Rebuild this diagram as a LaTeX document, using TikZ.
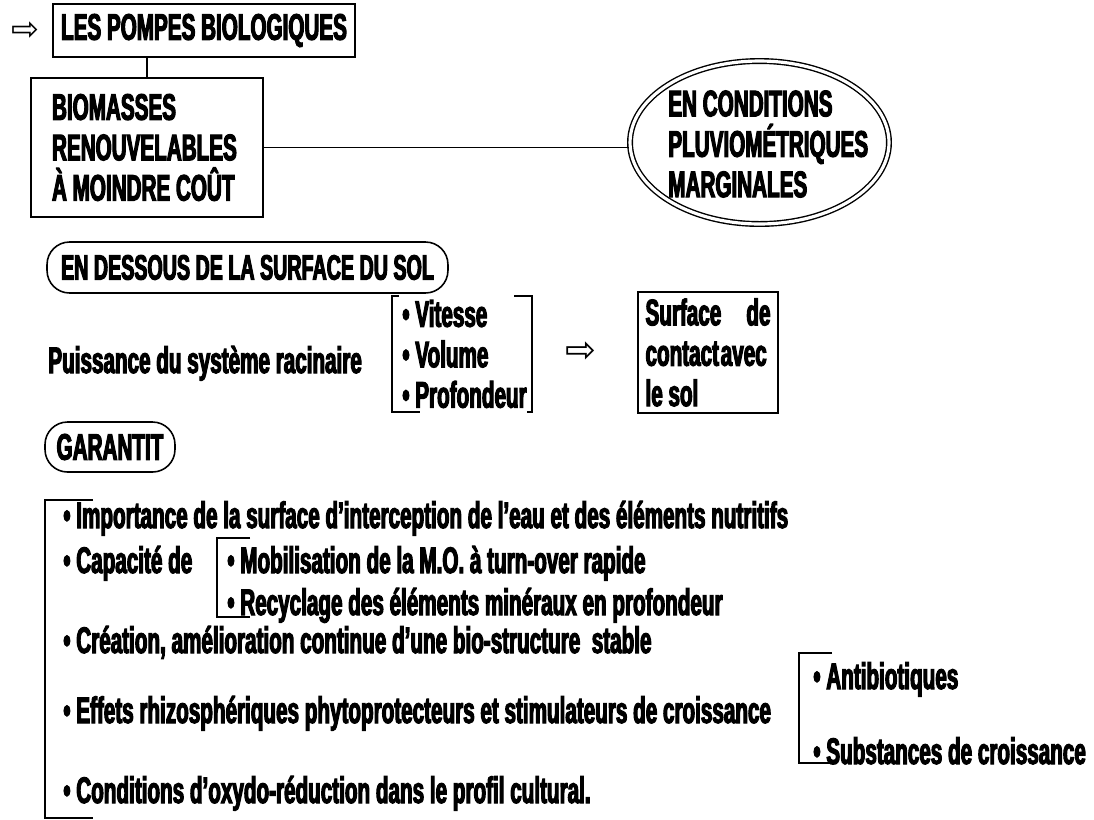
\documentclass[tikz,border=0pt]{standalone}
\usepackage{fontspec}
\setmainfont{Liberation Sans}[FakeStretch=0.56, BoldFeatures={FakeBold=3}]
\newfontfamily\symfont{DejaVu Sans}
\usetikzlibrary{shapes.geometric, positioning}

\begin{document}
\begin{tikzpicture}[
        x=0.02cm, y=-0.02cm,
        every node/.style={font=\bfseries\fontsize{21}{23}\selectfont, inner sep=0pt},
        box/.style={draw, rectangle, line width=1pt},
        capsule/.style={draw, rectangle, rounded corners=0.45cm, line width=0.9pt},
        item/.style={anchor=base west},
        hollow/.style={font=\symfont\fontsize{21}{21}\selectfont},
        bracket/.style={line width=0.8pt}
    ]
        \useasboundingbox (0,0) rectangle (1094,819);

        \node[box, minimum width=6.04cm, minimum height=1.06cm] (pompes) at (204,30.5) {LES POMPES BIOLOGIQUES};
        \node[hollow, font=\symfont\fontsize{19}{19}\selectfont] (arrtop) at (25,31) {⇨};
        \node[box, minimum height=2.78cm, text width=3.8cm, inner xsep=0.42cm, align=flush left] (biom) at (147,147.5) {BIOMASSES\\RENOUVELABLES\\À MOINDRE COÛT};
        \node[draw, ellipse, double, double distance=1.8pt, line width=0.8pt, minimum width=5.18cm, minimum height=3.26cm] (cond) at (759.5,142.5) {};
        \node[anchor=west, align=left] (condtext) at (668,144) {EN CONDITIONS\\PLUVIOMÉTRIQUES\\MARGINALES};

        \draw[thick] (biom.north) -- (biom.north |- pompes.south);
        \draw[thick] (biom.east) -- (biom.east -| cond.west);

        \node[capsule, minimum width=8.02cm, minimum height=1.02cm, font=\bfseries\fontsize{20}{23}\selectfont] (dessous) at (247.5,267.5) {EN DESSOUS DE LA SURFACE DU SOL};
        \node[item] (puiss) at (48,373) {Puissance du système racinaire};
        \node[anchor=west, align=left] (vitlist) at (402,354) {• Vitesse\\• Volume\\• Profondeur};
        \draw[bracket] (399,296) -- (392,296) -- (392,412) -- (420,412);
        \draw[bracket] (514,296) -- (532,296) -- (532,412) -- (527,412);
        \node[box, minimum width=2.8cm, minimum height=2.42cm, text width=2.5cm, inner xsep=0.15cm, align=flush left] (contact) at (708,352.5) {Surface\hfill de\\contact\kern1pt avec\\le sol};
        \node[hollow, left=0.8cm of contact] (arrmid) {⇨};

        \node[capsule, minimum width=2.6cm, minimum height=1cm] (garantit) at (110,447) {GARANTIT};

        \node[item] (interc) at (63,528) {• Importance de la surface d’interception de l’eau et des éléments nutritifs};
        \node[item] (capac) at (63,573) {• Capacité de};
        \node[item] (mobil) at (227,573) {• Mobilisation de la M.O. à turn-over rapide};
        \node[item] (recyc) at (227,615) {• Recyclage des éléments minéraux en profondeur};
        \node[item] (creat) at (63,653) {• Création, amélioration continue d’une bio-structure\ \ stable};
        \node[item] (effets) at (63,723) {• Effets rhizosphériques phytoprotecteurs et stimulateurs de croissance};
        \node[item] (oxydo) at (63,803) {• Conditions d’oxydo-réduction dans le profil cultural.};
        \node[item] (antib) at (813,689) {• Antibiotiques};
        \node[item] (subst) at (813,764) {• Substances de croissance};

        \draw[bracket] (93,500) -- (45,500) -- (45,818) -- (93,818);
        \draw[bracket] (250,538) -- (217,538) -- (217,617) -- (250,617);
        \draw[bracket] (832,653) -- (799,653) -- (799,763) -- (832,763);
    \end{tikzpicture}
\end{document}
